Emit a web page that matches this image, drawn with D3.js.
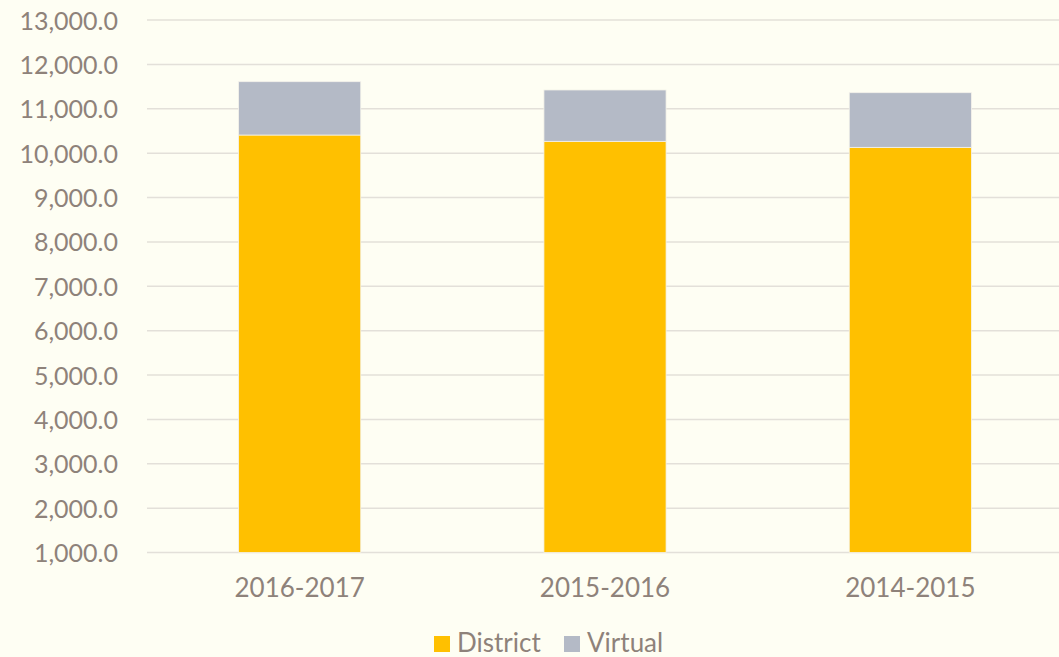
<!DOCTYPE html>
<html>
<head>
<meta charset="utf-8">
<script src="https://cdn.jsdelivr.net/npm/d3@7"></script>
<style>
  html, body { margin: 0; padding: 0; background: #fefef3; }
  svg { display: block; font-family: Lato, "Open Sans", sans-serif; }
  .tick text { fill: #8e827a; }
</style>
</head>
<body>
<div id="chart"></div>
<script>
var width = 1059, height = 657
var margin = {left: 147, right: -4, top: 20, bottom: 104.5}

var years = ["2016-2017", "2015-2016", "2014-2015"]
var district = [10408, 10266, 10130]
var virtual = [1202, 1157, 1232]
var seriesNames = ["District", "Virtual"]
var seriesColors = ["#ffc000", "#b4bac6"]
var yTicks = d3.range(1000, 13001, 1000)

var rows = years.map(function(y, i) { return {year: y, District: district[i], Virtual: virtual[i]} })
var stacked = d3.stack().keys(seriesNames)(rows)

var xScale = d3.scaleBand()
    .domain(years)
    .range([margin.left, width - margin.right])
    .paddingInner(0.6)
    .paddingOuter(0.3)

var yScale = d3.scaleLinear()
    .domain([1000, 13000])
    .range([height - margin.bottom, margin.top])

var svg = d3.select("#chart")
    .append("svg")
    .attr("width", width)
    .attr("height", height)

// gridlines
svg.append("g")
    .selectAll("line")
    .data(yTicks)
    .enter()
    .append("line")
        .attr("x1", margin.left)
        .attr("x2", width)
        .attr("y1", function(d) { return yScale(d) })
        .attr("y2", function(d) { return yScale(d) })
        .attr("stroke", "#e3e0d9")
        .attr("stroke-width", 1.5)

// bars
svg.append("g")
    .selectAll("g")
    .data(stacked)
    .enter()
    .append("g")
        .attr("fill", function(d, i) { return seriesColors[i] })
    .selectAll("rect")
    .data(function(d) { return d })
    .enter()
    .append("rect")
        .attr("x", function(d) { return xScale(d.data.year) })
        .attr("y", function(d) { return yScale(Math.max(d[1], 1000)) })
        .attr("width", xScale.bandwidth())
        .attr("height", function(d) { return yScale(Math.max(d[0], 1000)) - yScale(d[1]) })
        .attr("stroke", "#f4f2ea")
        .attr("stroke-width", 0.8)

// left axis
var yAxis = d3.axisLeft(yScale)
    .tickValues(yTicks)
    .tickSize(0)
    .tickPadding(29)
    .tickFormat(d3.format(",.1f"))
svg.append("g")
    .attr("transform", "translate(" + margin.left + ",0)")
    .call(yAxis)
    .attr("font-family", null)
    .attr("font-size", null)
    .call(function(g) { g.select(".domain").remove() })
    .selectAll("text")
        .style("font-size", "25px")
        .attr("dy", "0.36em")

// bottom axis
var xAxis = d3.axisBottom(xScale).tickSize(0).tickPadding(26)
svg.append("g")
    .attr("transform", "translate(0," + (height - margin.bottom) + ")")
    .call(xAxis)
    .attr("font-family", null)
    .attr("font-size", null)
    .call(function(g) { g.select(".domain").remove() })
    .selectAll("text")
        .style("font-size", "26px")

// legend
var legendX = [434, 564]
var legend = svg.append("g")
    .selectAll("g")
    .data(seriesNames)
    .enter()
    .append("g")
        .attr("transform", function(d, i) { return "translate(" + legendX[i] + ",636)" })
legend.append("rect")
    .attr("width", 16)
    .attr("height", 16)
    .attr("fill", function(d, i) { return seriesColors[i] })
legend.append("text")
    .attr("x", 23)
    .attr("y", 16)
    .attr("fill", "#8e827a")
    .style("font-size", "26px")
    .text(function(d) { return d })
</script>
</body>
</html>
